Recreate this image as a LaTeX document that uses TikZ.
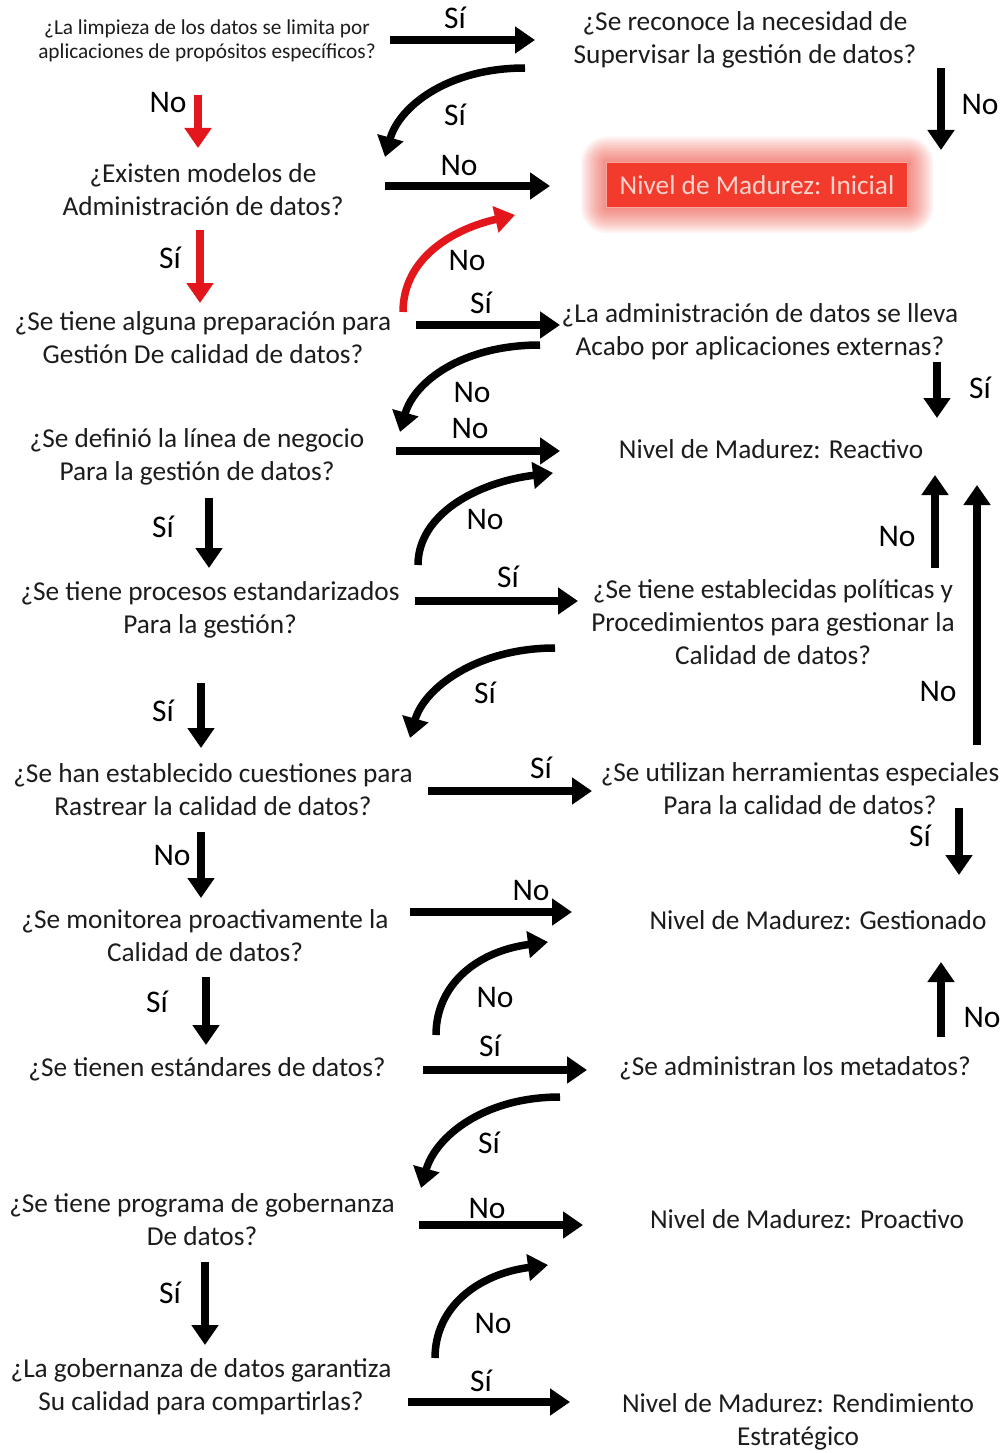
\documentclass[tikz,border=0pt]{standalone}
\usepackage{fontspec}
\setmainfont{Carlito}
\usetikzlibrary{arrows.meta,calc}
\definecolor{txt}{HTML}{1C1C1C}
\definecolor{arred}{HTML}{E3161B}
\definecolor{boxred}{HTML}{F23B2C}
\definecolor{boxline}{HTML}{F7A6A0}
\definecolor{boxtxt}{HTML}{FBD3CC}
\begin{document}
\begin{tikzpicture}[x=1pt,y=-1pt,
  q/.style={align=center,text=txt,font=\fontsize{27.3}{33}\selectfont,inner sep=0pt},
  qs/.style={q,font=\fontsize{21.3}{24}\selectfont},
  lbl/.style={text=black,font=\fontsize{31.5}{31.5}\selectfont,inner sep=0pt},
  arr/.style={line width=7.5pt,-{Triangle[length=20pt,width=26pt]}},
  redarr/.style={arr,draw=arred},
]
\path[use as bounding box,fill=white] (0,0) rectangle (1005,1453);

% ---- questions, left column
\node[qs] (L1) at (207,41) {¿La limpieza de los datos se limita por\\aplicaciones de propósitos específicos?};
\node[q] (L2) at (203,190) {¿Existen modelos de\\Administración de datos?};
\node[q] (L3) at (203,338) {¿Se tiene alguna preparación para\\Gestión De calidad de datos?};
\node[q] (L4) at (197,457) {¿Se definió la línea de negocio\\Para la gestión de datos?};
\node[q] (L5) at (210,610) {¿Se tiene procesos estandarizados\\Para la gestión?};
\node[q] (L6) at (213,790) {¿Se han establecido cuestiones para\\Rastrear la calidad de datos?};
\node[q] (L7) at (205,936) {¿Se monitorea proactivamente la\\Calidad de datos?};
\node[q] (L8) at (207,1069) {¿Se tienen estándares de datos?};
\node[q] (L9) at (202,1220) {¿Se tiene programa de gobernanza\\De datos?};
\node[q] (L10) at (201,1387) {¿La gobernanza de datos garantiza\\Su calidad para compartirlas?};

% ---- questions and maturity levels, right column
\node[q] (R1) at (745,40) {¿Se reconoce la necesidad de\\Supervisar la gestión de datos?};
\node[q] (R3) at (760,332) {¿La administración de datos se lleva\\Acabo por aplicaciones externas?};
\node[q] (R4) at (771,449) {Nivel de Madurez: Reactivo};
\node[q] (R5) at (773,622) {¿Se tiene establecidas políticas y\\Procedimientos para gestionar la\\Calidad de datos?};
\node[q] (R6) at (800,789) {¿Se utilizan herramientas especiales\\Para la calidad de datos?};
\node[q] (R7) at (818,920) {Nivel de Madurez: Gestionado};
\node[q] (R8) at (795,1068) {¿Se administran los metadatos?};
\node[q] (R9) at (807,1219) {Nivel de Madurez: Proactivo};
\node[q] (R10) at (798,1422) {Nivel de Madurez: Rendimiento\\Estratégico};

% ---- glowing box for the initial level
\coordinate (glowc) at (757,185);
\foreach \r in {2,4,...,26}
  \fill[boxred,opacity=0.06,rounded corners=\r pt]
    ($(glowc)+(-150-\r,-22-\r)$) rectangle ($(glowc)+(150+\r,22+\r)$);
\node[q,fill=boxred,draw=boxline,line width=1pt,text=boxtxt,
      minimum width=301pt,minimum height=45pt] (R2) at (glowc) {Nivel de Madurez: Inicial};

% ---- straight connectors
\draw[arr] ($(L1.center)+(183,-1)$) -- ($(R1.center)+(-210,0)$);
\draw[redarr] ($(L1.center)+(-9,54)$) -- ($(L2.center)+(-5,-42)$);
\draw[arr] ($(R1.center)+(196,28)$) -- ($(R2.center)+(184,-35)$);
\draw[arr] ($(L2.center)+(182,-4)$) -- ($(R2.center)+(-207,1)$);
\draw[redarr] ($(L2.center)+(-3,40)$) -- ($(L3.center)+(-3,-35)$);
\draw[arr] ($(L3.center)+(213,-13)$) -- ($(R3.center)+(-200,-7)$);
\draw[arr] ($(L4.center)+(199,-6)$) -- ($(R4.center)+(-211,2)$);
\draw[arr] ($(R3.center)+(177,30)$) -- ($(R4.center)+(166,-31)$);
\draw[arr] ($(L4.center)+(12,41)$) -- ($(L5.center)+(-1,-42)$);
\draw[arr] ($(L5.center)+(205,-9)$) -- ($(R5.center)+(-195,-21)$);
\draw[arr] ($(R5.center)+(162,-54)$) -- ($(R4.center)+(164,26)$);
\draw[arr] ($(L5.center)+(-9,73)$) -- ($(L6.center)+(-12,-42)$);
\draw[arr] ($(L6.center)+(215,1)$) -- ($(R6.center)+(-208,2)$);
\draw[arr] ($(R6.center)+(177,-44)$) -- ($(R4.center)+(206,36)$);
\draw[arr] ($(L6.center)+(-12,42)$) -- ($(L7.center)+(-4,-38)$);
\draw[arr] ($(R6.center)+(159,19)$) -- ($(R7.center)+(141,-45)$);
\draw[arr] ($(L7.center)+(205,-24)$) -- ($(R7.center)+(-246,-8)$);
\draw[arr] ($(L7.center)+(1,41)$) -- ($(L8.center)+(-1,-24)$);
\draw[arr] ($(L8.center)+(216,1)$) -- ($(R8.center)+(-208,2)$);
\draw[arr] ($(R8.center)+(146,-31)$) -- ($(R7.center)+(123,42)$);
\draw[arr] ($(L9.center)+(217,5)$) -- ($(R9.center)+(-224,6)$);
\draw[arr] ($(L9.center)+(3,42)$) -- ($(L10.center)+(4,-42)$);
\draw[arr] ($(L10.center)+(207,15)$) -- ($(R10.center)+(-228,-20)$);

% ---- curved connectors (right to left, falling)
\draw[arr] ($(R1.center)+(-220,28)$) .. controls +(-78,0) and +(14,-50) .. ($(L2.center)+(182,-33)$);
\draw[arr] ($(R3.center)+(-220,13)$) .. controls +(-78,0) and +(14,-50) .. ($(L4.center)+(203,-25)$);
\draw[arr] ($(R5.center)+(-218,26)$) .. controls +(-78,0) and +(14,-50) .. ($(L6.center)+(197,-52)$);
\draw[arr] ($(R8.center)+(-235,29)$) .. controls +(-78,0) and +(14,-50) .. ($(L9.center)+(219,-32)$);

% ---- curved connectors (left to right, rising)
\draw[redarr] ($(L3.center)+(200,-26)$) .. controls +(0,-54) and +(-62,14) .. ($(R2.center)+(-242,30)$);
\draw[arr] ($(L5.center)+(208,-45)$) .. controls +(0,-51) and +(-75,9) .. ($(R4.center)+(-218,24)$);
\draw[arr] ($(L8.center)+(229,-34)$) .. controls +(0,-51) and +(-70,9) .. ($(R7.center)+(-270,22)$);
\draw[arr] ($(L10.center)+(234,-29)$) .. controls +(0,-51) and +(-70,9) .. ($(R9.center)+(-259,46)$);

% ---- answer labels
\node[lbl] (s1) at (455,18) {Sí};
\node[lbl] (s2) at (455,115) {Sí};
\node[lbl] (n1) at (168,103) {No};
\node[lbl] (n2) at (980,105) {No};
\node[lbl] (n3) at (459,166) {No};
\node[lbl] (s3) at (170,258) {Sí};
\node[lbl] (n4) at (467,261) {No};
\node[lbl] (s4) at (481,303) {Sí};
\node[lbl] (n5) at (472,392) {No};
\node[lbl] (n6) at (470,428) {No};
\node[lbl] (s5) at (980,388) {Sí};
\node[lbl] (s6) at (163,527) {Sí};
\node[lbl] (n7) at (485,519) {No};
\node[lbl] (s7) at (508,577) {Sí};
\node[lbl] (n8) at (897,536) {No};
\node[lbl] (s8) at (485,693) {Sí};
\node[lbl] (s9) at (163,711) {Sí};
\node[lbl] (s10) at (541,768) {Sí};
\node[lbl] (n9) at (938,691) {No};
\node[lbl] (n10) at (172,855) {No};
\node[lbl] (s11) at (920,836) {Sí};
\node[lbl] (n11) at (531,890) {No};
\node[lbl] (n12) at (495,997) {No};
\node[lbl] (s12) at (157,1002) {Sí};
\node[lbl] (s13) at (490,1046) {Sí};
\node[lbl] (n13) at (982,1017) {No};
\node[lbl] (s14) at (489,1143) {Sí};
\node[lbl] (n14) at (487,1208) {No};
\node[lbl] (s15) at (170,1293) {Sí};
\node[lbl] (n15) at (493,1323) {No};
\node[lbl] (s16) at (481,1381) {Sí};
\end{tikzpicture}
\end{document}
